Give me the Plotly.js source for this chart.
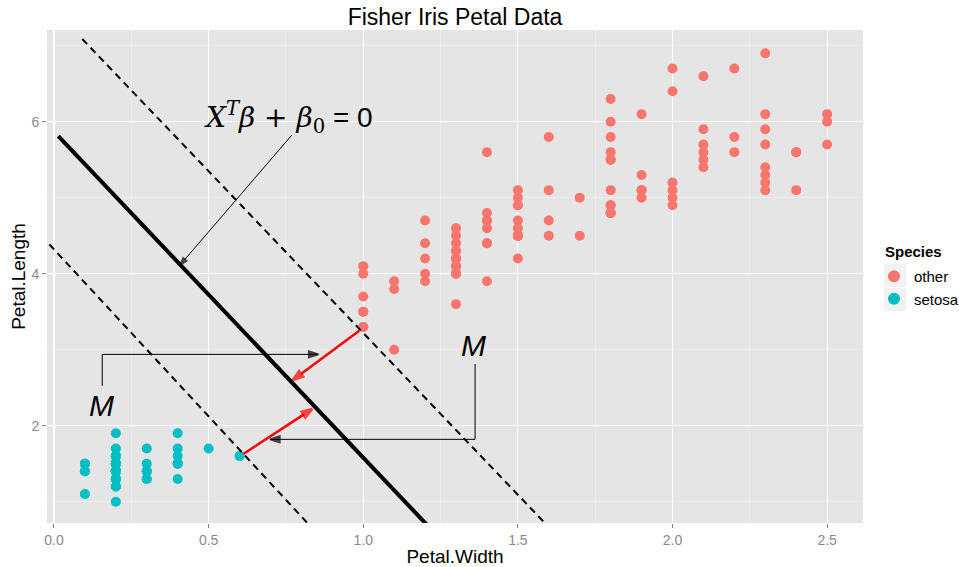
<!DOCTYPE html>
<html>
<head>
<meta charset="utf-8">
<script src="https://cdn.plot.ly/plotly-3.0.1.min.js"></script>
<style>
  html, body { margin: 0; padding: 0; background: #ffffff; }
  #chart { width: 959px; height: 567px; }
</style>
</head>
<body>
<div id="chart"></div>
<script>
// Iris petal measurements: setosa vs. the other two species
const setosaWidth = [0.2,0.2,0.2,0.2,0.2,0.4,0.3,0.2,0.2,0.1,0.2,0.2,0.1,0.1,0.2,0.4,0.4,0.3,0.3,0.3,
                     0.2,0.4,0.2,0.5,0.2,0.2,0.4,0.2,0.2,0.2,0.2,0.4,0.1,0.2,0.2,0.2,0.2,0.1,0.2,0.2,
                     0.3,0.3,0.2,0.6,0.4,0.3,0.2,0.2,0.2,0.2];
const setosaLength = [1.4,1.4,1.3,1.5,1.4,1.7,1.4,1.5,1.4,1.5,1.5,1.6,1.4,1.1,1.2,1.5,1.3,1.4,1.7,1.5,
                      1.7,1.5,1.0,1.7,1.9,1.6,1.6,1.5,1.4,1.6,1.6,1.5,1.5,1.4,1.5,1.2,1.3,1.4,1.3,1.5,
                      1.3,1.3,1.3,1.6,1.9,1.4,1.6,1.4,1.5,1.4];
const otherWidth = [1.4,1.5,1.5,1.3,1.5,1.3,1.6,1.0,1.3,1.4,1.0,1.5,1.0,1.4,1.3,1.4,1.5,1.0,1.5,1.1,
                    1.8,1.3,1.5,1.2,1.3,1.4,1.4,1.7,1.5,1.0,1.1,1.0,1.2,1.6,1.5,1.6,1.5,1.3,1.3,1.3,
                    1.2,1.4,1.2,1.0,1.3,1.2,1.3,1.3,1.1,1.3,
                    2.5,1.9,2.1,1.8,2.2,2.1,1.7,1.8,1.8,2.5,2.0,1.9,2.1,2.0,2.4,2.3,1.8,2.2,2.3,1.5,
                    2.3,2.0,2.0,1.8,2.1,1.8,1.8,1.8,2.1,1.6,1.9,2.0,2.2,1.5,1.4,2.3,2.4,1.8,1.8,2.1,
                    2.4,2.3,1.9,2.3,2.5,2.3,1.9,2.0,2.3,1.8];
const otherLength = [4.7,4.5,4.9,4.0,4.6,4.5,4.7,3.3,4.6,3.9,3.5,4.2,4.0,4.7,3.6,4.4,4.5,4.1,4.5,3.9,
                     4.8,4.0,4.9,4.7,4.3,4.4,4.8,5.0,4.5,3.5,3.8,3.7,3.9,5.1,4.5,4.5,4.7,4.4,4.1,4.0,
                     4.4,4.6,4.0,3.3,4.2,4.2,4.2,4.3,3.0,4.1,
                     6.0,5.1,5.9,5.6,5.8,6.6,4.5,6.3,5.8,6.1,5.1,5.3,5.5,5.0,5.1,5.3,5.5,6.7,6.9,5.0,
                     5.7,4.9,6.7,4.9,5.7,6.0,4.8,4.9,5.6,5.8,6.1,6.4,5.6,5.1,5.6,6.1,5.6,5.5,4.8,5.4,
                     5.6,5.1,5.1,5.9,5.7,5.2,5.0,5.2,5.4,5.1];

// Separating hyperplane and margin boundaries (endpoints: [x0, x1], [y0, y1])
const hyperX = [0.014, 1.205];   const hyperY = [5.81, 0.70];
const upperX = [0.0915, 1.592];  const upperY = [7.088, 0.70];
const lowerX = [-0.015, 0.824];  const lowerY = [4.386, 0.70];

// Margin arrows from the support vectors to the hyperplane: [tail, head]
const marginArrow1X = [0.987, 0.772]; const marginArrow1Y = [3.250, 2.601];
const marginArrow2X = [0.612, 0.835]; const marginArrow2Y = [1.628, 2.220];

// Pointer from the equation label to the hyperplane: [tail, head]
const eqArrowX = [0.769, 0.4075]; const eqArrowY = [5.824, 4.114];
const eqLabelPos = [0.757, 6.05];

// "M" callouts: label positions and elbow pointers [start, corner, tip]
const mLabels = [[0.154, 2.27], [1.356, 3.05]];
const leftBracketX = [0.156, 0.156, 0.855];    const leftBracketY = [2.526, 2.939, 2.939];
const rightBracketX = [1.3616, 1.3616, 0.699]; const rightBracketY = [2.812, 1.821, 1.821];

const speciesNames = ['other', 'setosa'];
const speciesColors = ['#F8766D', '#00BFC4'];

const sans = 'Liberation Sans, Arial, sans-serif';

// A line whose last point carries a filled arrowhead aligned with the path
function arrowTrace(xs, ys, color, width, headSize, headStroke) {
  const sizes = xs.map((_, i) => (i === xs.length - 1 ? headSize : 0));
  return {
    x: xs, y: ys, type: 'scatter', mode: 'lines+markers', showlegend: false, hoverinfo: 'skip',
    line: { color: color, width: width },
    marker: { symbol: 'arrow', angleref: 'previous', size: sizes, color: color,
              line: { width: headStroke, color: color } }
  };
}

const traces = [
  { x: otherWidth, y: otherLength, type: 'scatter', mode: 'markers', name: speciesNames[0],
    marker: { color: speciesColors[0], size: 10 }, hoverinfo: 'x+y' },
  { x: setosaWidth, y: setosaLength, type: 'scatter', mode: 'markers', name: speciesNames[1],
    marker: { color: speciesColors[1], size: 10 }, hoverinfo: 'x+y' },
  { x: hyperX, y: hyperY, type: 'scatter', mode: 'lines', showlegend: false,
    line: { color: '#000', width: 4 }, hoverinfo: 'skip' },
  { x: upperX, y: upperY, type: 'scatter', mode: 'lines', showlegend: false,
    line: { color: '#000', width: 2, dash: '7px,5px' }, hoverinfo: 'skip' },
  { x: lowerX, y: lowerY, type: 'scatter', mode: 'lines', showlegend: false,
    line: { color: '#000', width: 2, dash: '7px,5px' }, hoverinfo: 'skip' },
  arrowTrace(marginArrow1X, marginArrow1Y, '#FF0000', 2.5, 11, 2.5),
  arrowTrace(marginArrow2X, marginArrow2Y, '#FF0000', 2.5, 11, 2.5),
  arrowTrace(eqArrowX, eqArrowY, '#000000', 1, 8, 1.5),
  arrowTrace(leftBracketX, leftBracketY, '#000000', 1, 10, 2),
  arrowTrace(rightBracketX, rightBracketY, '#000000', 1, 10, 2)
];

// Plot-area pixel box, used to place the legend pieces in paper units
const plotL = 47, plotR = 863, plotT = 30, plotB = 523;
const px = v => (v - plotL) / (plotR - plotL);
const py = v => (plotB - v) / (plotB - plotT);

const annotations = [];
annotations.push({
  x: eqLabelPos[0], y: eqLabelPos[1], xref: 'x', yref: 'y', showarrow: false,
  text: '<i>X</i><sup><i>T</i></sup><i>β</i> + <i>β</i><sub>0</sub><span style="font-family:' +
        'Liberation Sans, Arial, sans-serif"> = 0</span>',
  font: { family: 'DejaVu Serif, serif', size: 28, color: '#000' }
});
mLabels.forEach(p => annotations.push({
  x: p[0], y: p[1], xref: 'x', yref: 'y', showarrow: false, text: '<i>M</i>',
  font: { family: sans, size: 30, color: '#000' }
}));
// Legend heading
annotations.push({
  x: px(883), y: py(251), xref: 'paper', yref: 'paper', showarrow: false, text: '<b>Species</b>',
  font: { family: sans, size: 15, color: '#000' }, xanchor: 'left', yanchor: 'middle'
});

// Grey key backgrounds behind the legend symbols
const keyBoxes = [[884, 264, 906, 287], [884, 288, 906, 311]];
const shapes = keyBoxes.map(b => ({
  type: 'rect', xref: 'paper', yref: 'paper', layer: 'below',
  x0: px(b[0]), x1: px(b[2]), y0: py(b[3]), y1: py(b[1]),
  fillcolor: '#F2F2F2', line: { width: 0 }
}));

const gridMajor = '#FFFFFF';
const gridMinor = '#F2F2F2';

const layout = {
  width: 959, height: 567,
  margin: { l: plotL, r: 959 - plotR, t: plotT, b: 567 - plotB, autoexpand: false },
  paper_bgcolor: '#FFFFFF',
  plot_bgcolor: '#E5E5E5',
  font: { family: sans, color: '#000' },
  title: { text: 'Fisher Iris Petal Data', x: 0.5, xref: 'paper', xanchor: 'center',
           y: 1 - 17 / 567, yref: 'container', yanchor: 'middle',
           font: { family: sans, size: 23, color: '#000' } },
  xaxis: {
    range: [-0.0226, 2.616], tickmode: 'array', tickvals: [0, 0.5, 1, 1.5, 2, 2.5],
    ticktext: ['0.0', '0.5', '1.0', '1.5', '2.0', '2.5'],
    showgrid: true, gridcolor: gridMajor, gridwidth: 1.2, zeroline: false, showline: false,
    ticks: 'outside', ticklen: 4, tickcolor: '#7F7F7F', tickwidth: 1,
    tickfont: { family: sans, size: 14, color: '#8A8A8A' },
    minor: { tickmode: 'array', tickvals: [0.25, 0.75, 1.25, 1.75, 2.25], showgrid: true,
             gridcolor: gridMinor, gridwidth: 0.6, ticks: '' },
    title: { text: 'Petal.Width', font: { family: sans, size: 19, color: '#000' }, standoff: 5 }
  },
  yaxis: {
    range: [0.72, 7.207], tickmode: 'array', tickvals: [2, 4, 6],
    showgrid: true, gridcolor: gridMajor, gridwidth: 1.2, zeroline: false, showline: false,
    ticks: 'outside', ticklen: 4, tickcolor: '#7F7F7F', tickwidth: 1,
    tickfont: { family: sans, size: 14, color: '#8A8A8A' },
    minor: { tickmode: 'array', tickvals: [1, 3, 5, 7], showgrid: true,
             gridcolor: gridMinor, gridwidth: 0.6, ticks: '' },
    title: { text: 'Petal.Length', font: { family: sans, size: 19, color: '#000' }, standoff: 0 }
  },
  legend: {
    x: px(874), xanchor: 'left', y: py(260), yanchor: 'top',
    font: { family: sans, size: 15, color: '#000' },
    bgcolor: 'rgba(0,0,0,0)', itemsizing: 'constant', borderwidth: 0
  },
  shapes: shapes,
  annotations: annotations,
  hovermode: false
};

Plotly.newPlot('chart', traces, layout, { displayModeBar: false, staticPlot: true });
</script>
</body>
</html>
